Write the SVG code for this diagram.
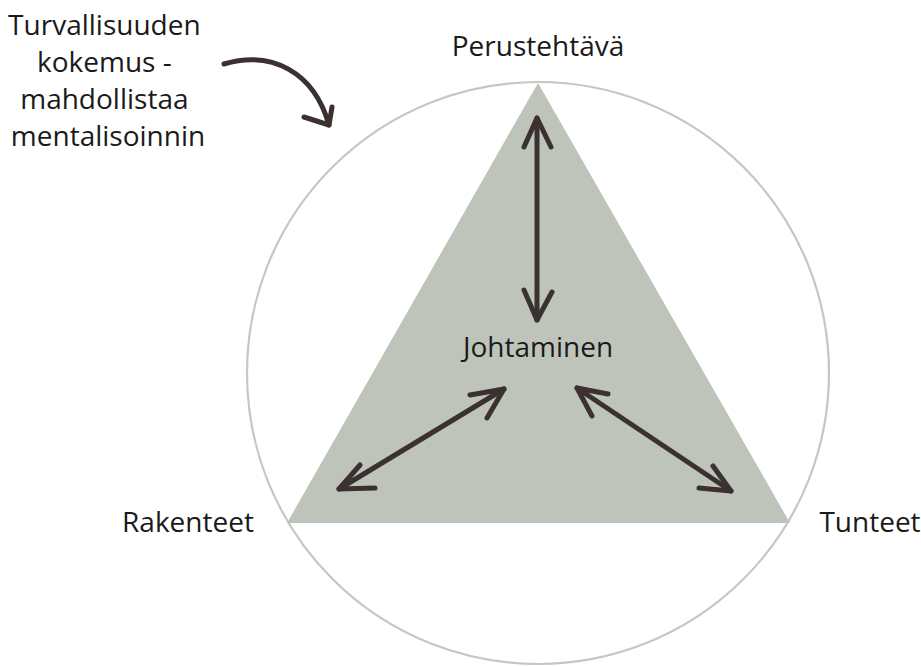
<svg xmlns="http://www.w3.org/2000/svg" width="921" height="666" viewBox="0 0 921 666">
  <style>
    .lbl { font-family: "Open Sans", "Noto Sans", "Liberation Sans", sans-serif; font-size: 28px; fill: #1a1a1a; text-anchor: middle; }
    .arrow { fill: none; stroke: #3b3131; stroke-width: 5; stroke-linecap: round; stroke-linejoin: round; }
  </style>
  <rect width="921" height="666" fill="#ffffff"/>

  <!-- outer circle and triangle -->
  <g id="frame">
    <circle cx="538" cy="373" r="291" fill="none" stroke="#c6c6c3" stroke-width="2.2"/>
    <polygon points="538,83 287,523 790,523" fill="#bfc4bb"/>
  </g>

  <g id="node-perustehtava"><text class="lbl" x="538" y="56">Perustehtävä</text></g>
  <g id="node-johtaminen"><text class="lbl" x="538" y="357">Johtaminen</text></g>
  <g id="node-rakenteet"><text class="lbl" x="188" y="532">Rakenteet</text></g>
  <g id="node-tunteet"><text class="lbl" x="870" y="532">Tunteet</text></g>
  <g id="node-turvallisuus">
    <text class="lbl" x="108">
      <tspan x="108" y="35">Turvallisuuden</tspan>
      <tspan x="108" y="72">kokemus -</tspan>
      <tspan x="108" y="109">mahdollistaa</tspan>
      <tspan x="108" y="146">mentalisoinnin</tspan>
    </text>
  </g>

  <g id="connectors">
    <!-- vertical: Johtaminen <-> Perustehtävä -->
    <path class="arrow" d="M537,118 L537,320"/>
    <path class="arrow" d="M524,147 L537,118 L551,147"/>
    <path class="arrow" d="M524,290 L537,320 L552,292"/>
    <!-- Johtaminen <-> Rakenteet -->
    <path class="arrow" d="M339,489 L504,389"/>
    <path class="arrow" d="M360,465 L339,489 L375,488"/>
    <path class="arrow" d="M470,395 L504,389 L487,418"/>
    <!-- Johtaminen <-> Tunteet -->
    <path class="arrow" d="M577,388 L731,491"/>
    <path class="arrow" d="M608,394 L577,388 L592,416"/>
    <path class="arrow" d="M699,488 L731,491 L713,466"/>
    <!-- curved pointer from the side note -->
    <path class="arrow" d="M224,64 C272,50 314,72 329,125" stroke-width="6"/>
    <path class="arrow" d="M304,117 L329,125 L332,107" stroke-width="6"/>
  </g>
</svg>
